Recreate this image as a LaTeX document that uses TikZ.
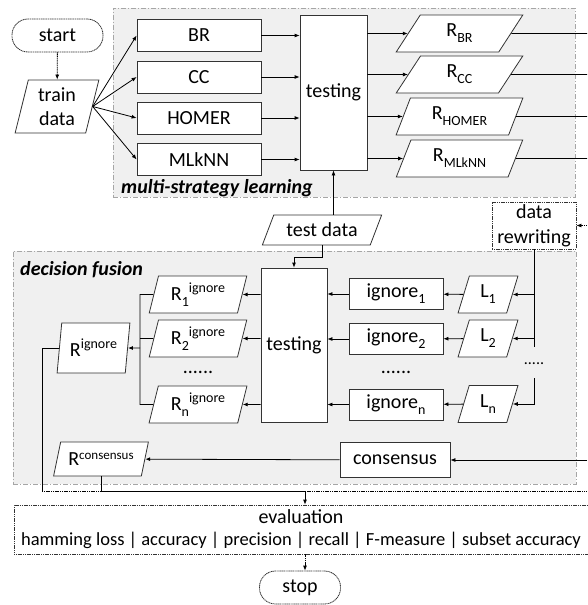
\documentclass[tikz,border=0pt]{standalone}
\usepackage{fontspec}
\setmainfont{Carlito}
\usetikzlibrary{shapes.geometric,arrows.meta}
\newcommand\lsub[1]{\raisebox{-0.3em}{\fontsize{14}{14}\selectfont #1}}
\newcommand\lsup[1]{\raisebox{0.4em}{\fontsize{14}{14}\selectfont #1}}
\newcommand\lsupc[1]{\raisebox{0.3em}{\fontsize{13}{13}\selectfont #1}}
\definecolor{grpfill}{HTML}{F0F0F0}
\definecolor{grpline}{HTML}{A6A6A6}
\definecolor{edgec}{HTML}{333333}
\begin{document}
\begin{tikzpicture}[x=1pt,y=-1pt,
  every node/.style={font=\fontsize{20}{22}\selectfont, inner sep=0pt},
  group/.style={draw=grpline, fill=grpfill, line width=0.7pt, dash pattern=on 5pt off 2pt on 1pt off 2pt, rectangle},
  box/.style={draw=edgec, line width=0.8pt, fill=white, rectangle},
  fine/.style={dash pattern=on 1.2pt off 0.6pt},
  term/.style={box, rounded corners=16pt, fine},
  para/.style 2 args={draw=edgec, line width=0.8pt, fill=white, trapezium, trapezium stretches=true, trapezium left angle=#1, trapezium right angle=#2},
  conn/.style={draw=black, line width=0.8pt},
  arr/.style={conn, -{Latex[length=5pt,width=4pt]}},
  lbl/.style={font=\fontsize{20}{22}\selectfont\bfseries\itshape, anchor=west}
]
\useasboundingbox (0,0) rectangle (587,605);
% groups
\node[group, minimum width=462, minimum height=189] (msl) at (344,102.5) {};
\node[group, minimum width=563, minimum height=233] (df) at (294.5,367.5) {};
\node[lbl] (lblmsl) at (121,188) {multi-strategy learning};
\node[lbl] (lbldf) at (20,270) {decision fusion};
% top part
\node[term, minimum width=91, minimum height=33] (start) at (57.5,35.5) {start};
\node[para={77}{103}, minimum width=84, minimum height=53, align=center, font=\fontsize{20}{24}\selectfont] (train) at (57,106.5) {train\\data};
\node[box, minimum width=124, minimum height=32] (br) at (199,35.5) {BR};
\node[box, minimum width=124, minimum height=32] (cc) at (199,77) {CC};
\node[box, minimum width=124, minimum height=32] (homer) at (199,118) {HOMER};
\node[box, minimum width=124, minimum height=32] (mlknn) at (199,159.5) {MLkNN};
\node[box, minimum width=67, minimum height=155] (test1) at (333.5,92.5) {testing};
\node[para={67}{113}, minimum width=127, minimum height=37] (rbr) at (459.5,33.5) {R\lsub{BR}};
\node[para={67}{113}, minimum width=127, minimum height=37] (rcc) at (459.5,74.5) {R\lsub{CC}};
\node[para={67}{113}, minimum width=127, minimum height=37] (rhomer) at (459.5,116.5) {R\lsub{HOMER}};
\node[para={67}{113}, minimum width=127, minimum height=37] (rmlknn) at (459.5,158.5) {R\lsub{MLkNN}};
\node[para={59}{121}, minimum width=120, minimum height=30] (td) at (322,230) {test data};
\node[box, fine, minimum width=84, minimum height=47, align=center, font=\fontsize{20}{25}\selectfont] (dr) at (534,225.5) {data\\rewriting};
% decision fusion
\node[box, minimum width=66, minimum height=154] (test2) at (294,345) {testing};
\node[para={75}{105}, minimum width=98, minimum height=37] (ri1) at (198,294.5) {R\lsub{1}\lsup{ignore}};
\node[para={75}{105}, minimum width=98, minimum height=37] (ri2) at (198,338.5) {R\lsub{2}\lsup{ignore}};
\node[para={75}{105}, minimum width=98, minimum height=37] (rin) at (198,404.5) {R\lsub{n}\lsup{ignore}};
\node (dotsR) at (198,372) {......};
\node[para={79}{101}, minimum width=73, minimum height=50] (rig) at (93.5,348) {R\lsup{ignore}};
\node[box, minimum width=94, minimum height=31] (ig1) at (396,294) {ignore\lsub{1}};
\node[box, minimum width=94, minimum height=31] (ig2) at (396,339) {ignore\lsub{2}};
\node[box, minimum width=94, minimum height=31] (ign) at (396,404.5) {ignore\lsub{n}};
\node (dotsI) at (396,372) {......};
\node[para={76}{104}, minimum width=60, minimum height=37] (l1) at (488,294.5) {L\lsub{1}};
\node[para={76}{104}, minimum width=60, minimum height=37] (l2) at (488,338.5) {L\lsub{2}};
\node[para={76}{104}, minimum width=60, minimum height=37] (ln) at (488,404) {L\lsub{n}};
\node[font=\fontsize{16}{16}\selectfont] (dotsL) at (534,364) {.....};
\node[box, minimum width=110, minimum height=35] (cons) at (395,460) {consensus};
\node[para={66}{114}, minimum width=95, minimum height=34] (rcons) at (101,459) {R\lsupc{consensus}};
% bottom
\node[box, fine, minimum width=574, minimum height=49, align=center] (eval) at (301,529.5) {evaluation\\{\fontsize{18.5}{20}\selectfont hamming loss | accuracy | precision | recall | F-measure | subset accuracy}};
\node[term, minimum width=81, minimum height=33] (stop) at (300,587.5) {stop};
% helper coordinates
\coordinate (rx) at (587,0);
\coordinate (bx) at (140,0);
\coordinate (lx) at (42,491);
\coordinate (ax) at (305,0);
\coordinate (lnTop) at (534,378);
% connectors top
\draw[arr, fine] (start) -- (train);
\foreach \n in {br,cc,homer,mlknn} {
  \draw[arr] (train.east) -- (\n.west);
  \draw[arr] (\n.east) -- (\n -| test1.west);
}
\foreach \r in {rbr,rcc,rhomer,rmlknn} {
  \draw[arr] (\r -| test1.east) -- (\r);
  \draw[conn] (\r.east) -- (\r -| rx);
}
\draw[arr] (td.north -| test1.south) -- (test1.south);
\draw[arr] (td.south) -- ++(0,12) -| (test2.north);
\draw[arr, fine] (dr -| rx) -- (dr.east);
% decision fusion connectors
\draw[conn] (dr.south) -- ++(0,98);
\draw[arr] (l1 -| dr.south) -- (l1);
\draw[arr] (l2 -| dr.south) -- (l2);
\draw[arr] (lnTop) |- (ln);
\draw[arr] (l1) -- (ig1);
\draw[arr] (l2) -- (ig2);
\draw[arr] (ln) -- (ign);
\draw[arr] (ig1) -- (ig1 -| test2.east);
\draw[arr] (ig2) -- (ig2 -| test2.east);
\draw[arr] (ign) -- (ign -| test2.east);
\draw[arr] (ri1 -| test2.west) -- (ri1);
\draw[arr] (ri2 -| test2.west) -- (ri2);
\draw[arr] (rin -| test2.west) -- (rin);
\draw[conn] (ri1.west) -- (ri1 -| bx) -- (rin -| bx) -- (rin.west);
\draw[conn] (ri2.west) -- (ri2 -| bx);
\draw[arr] (bx |- rig) -- (rig);
\draw[arr] (cons -| rx) -- (cons.east);
\draw[arr] (cons) -- (rcons);
% bottom connectors
\draw[conn, fine, line width=0.6pt] (lx) -- (lx -| rx);
\draw[conn] (rig.west) -| (lx);
\draw[conn] (rcons.south) |- (ax |- lx);
\draw[arr] (ax |- lx) -- (ax |- eval.north);
\draw[arr, fine] (ax |- eval.south) -- (ax |- stop.north);
\end{tikzpicture}
\end{document}
